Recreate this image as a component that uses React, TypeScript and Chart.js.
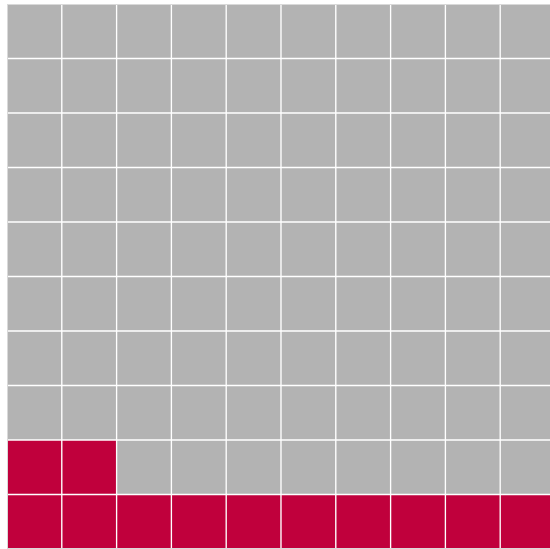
import React, { useEffect, useRef } from "react";
import { Chart, registerables } from "chart.js";

Chart.register(...registerables);

const columns = ["1", "2", "3", "4", "5", "6", "7", "8", "9", "10"];
const rows = ["1", "2", "3", "4", "5", "6", "7", "8", "9", "10"];
const filledCells = 12;
const cellValue = 1;
const filledColor = "#c0003c";
const emptyColor = "#b3b3b3";
const frameColor = "#d9d9d9";

const framePlugin = {
  id: "frame",
  afterDatasetsDraw(chart: any) {
    const { ctx, chartArea } = chart;
    ctx.save();
    ctx.strokeStyle = frameColor;
    ctx.lineWidth = 1;
    ctx.strokeRect(
      chartArea.left + 0.5,
      chartArea.top + 0.5,
      chartArea.right - chartArea.left - 1,
      chartArea.bottom - chartArea.top - 1
    );
    ctx.restore();
  },
};

export default function App() {
  const ref = useRef<HTMLCanvasElement | null>(null);
  useEffect(() => {
    const datasets = rows.map((r, ri) => ({
      label: "row " + r,
      data: columns.map(() => cellValue),
      backgroundColor: columns.map((c, ci) =>
        ri * columns.length + ci < filledCells ? filledColor : emptyColor
      ),
      borderColor: "#ffffff",
      borderWidth: 1,
      borderSkipped: false,
      barPercentage: 1,
      categoryPercentage: 1,
    }));
    const chart = new Chart(ref.current!, {
      type: "bar",
      data: { labels: columns, datasets },
      plugins: [framePlugin],
      options: {
        animation: false,
        responsive: false,
        layout: { padding: 0 },
        plugins: { legend: { display: false }, tooltip: { enabled: false } },
        scales: {
          x: { stacked: true, display: false },
          y: { stacked: true, display: false, min: 0, max: rows.length },
        },
      },
    });
    return () => chart.destroy();
  }, []);
  return (
    <div style={{ position: "fixed", left: 7, top: 4, width: 548, height: 545, overflow: "visible" }}>
      <canvas ref={ref} width={548} height={545} style={{ display: "block" }} />
    </div>
  );
}
